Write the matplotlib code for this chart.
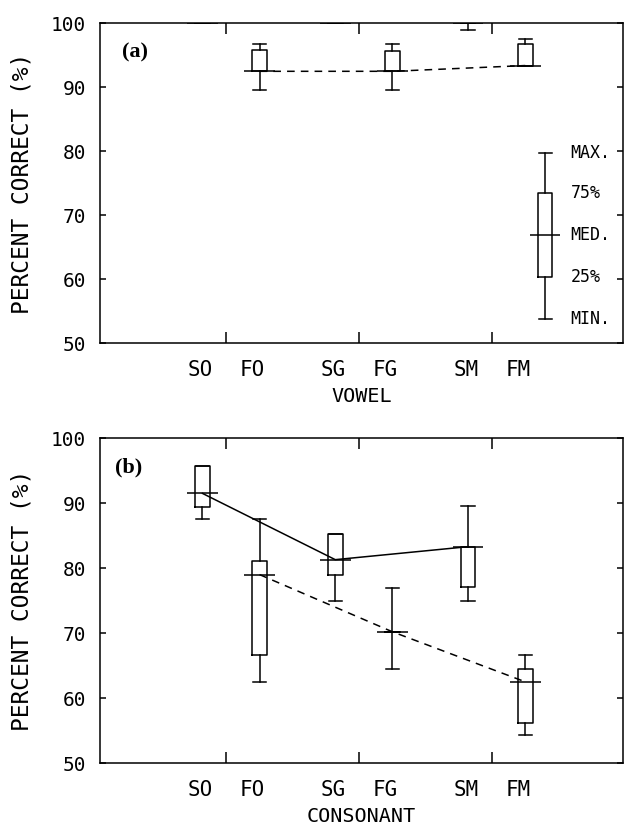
import matplotlib
matplotlib.use("Agg")
import matplotlib.pyplot as plt
from matplotlib.ticker import FixedLocator, NullFormatter, FixedFormatter

# categories: S = slow, F = fast; O, G, M groups
groups = ["O", "G", "M"]
s_labels = ["SO", "SG", "SM"]
f_labels = ["FO", "FG", "FM"]

# vowel (a): [min, q1, median, q3, max]
vowel_s = [
    [100, 100, 100, 100, 100],
    [100, 100, 100, 100, 100],
    [99.0, 100, 100, 100, 100],
]
vowel_f = [
    [89.6, 92.5, 92.5, 95.8, 96.8],
    [89.6, 92.5, 92.5, 95.7, 96.7],
    [93.4, 93.4, 93.4, 96.8, 97.6],
]

# consonant (b)
cons_s = [
    [87.5, 89.4, 91.5, 95.7, 95.7],
    [74.9, 79.0, 81.3, 85.3, 85.3],
    [75.0, 77.1, 83.3, 83.3, 89.5],
]
cons_f = [
    [62.4, 66.6, 79.0, 81.1, 87.5],
    [64.5, 70.2, 70.2, 70.2, 76.9],
    [54.3, 56.2, 62.5, 64.5, 66.6],
]

# key box in panel (a)
key_stats = [53.8, 60.4, 66.9, 73.4, 79.8]
key_text = ["MIN.", "25%", "MED.", "75%", "MAX."]

S_OFF, F_OFF, LAB_OFF = -0.18, 0.25, 0.195
BOX_W, MED_W, CAP_W = 0.11, 0.23, 0.10
LW = 1.1
mono = "DejaVu Sans Mono"


def stats_dict(v):
    return dict(whislo=v[0], q1=v[1], med=v[2], q3=v[3], whishi=v[4])


def draw_boxes(ax, data, positions):
    ax.bxp([stats_dict(v) for v in data], positions=positions,
           widths=BOX_W, capwidths=CAP_W, showfliers=False, manage_ticks=False,
           boxprops=dict(color="black", lw=LW),
           whiskerprops=dict(color="black", lw=LW),
           capprops=dict(color="black", lw=LW),
           medianprops=dict(lw=0))
    ax.hlines([v[2] for v in data], [p - MED_W / 2 for p in positions],
              [p + MED_W / 2 for p in positions], color="black", lw=LW)


def setup(ax, xlabel, tag, tag_xy):
    ax.set_xlim(-0.95, 2.985)
    ax.set_ylim(50, 100)
    ax.set_yticks([50, 60, 70, 80, 90, 100])
    ax.tick_params(axis="y", which="major", direction="in", length=4, width=LW,
                   right=True, labelsize=14, pad=10)
    ax.xaxis.set_major_locator(FixedLocator([0, 1, 2]))
    ax.xaxis.set_major_formatter(NullFormatter())
    pos = []
    labs = []
    for i in range(3):
        pos += [i - LAB_OFF, i + LAB_OFF]
        labs += [s_labels[i], f_labels[i]]
    ax.xaxis.set_minor_locator(FixedLocator(pos))
    ax.xaxis.set_minor_formatter(FixedFormatter(labs))
    ax.tick_params(axis="x", which="major", direction="in", length=8, width=LW, top=True)
    ax.tick_params(axis="x", which="minor", length=0, labelsize=15, pad=12)
    for lab in ax.get_xticklabels(minor=True) + ax.get_yticklabels():
        lab.set_fontfamily(mono)
    for sp in ax.spines.values():
        sp.set_linewidth(LW)
    ax.set_xlabel(xlabel, fontsize=14.5, family=mono, labelpad=5)
    ax.set_ylabel("PERCENT CORRECT (%)", fontsize=16.5, family=mono)
    ax.yaxis.set_label_coords(-0.128, 0.5)
    ax.text(tag_xy[0], tag_xy[1], tag, transform=ax.transAxes, fontsize=16,
            family="Liberation Serif", weight="bold", va="center")


fig = plt.figure(figsize=(6.26, 8.33), dpi=100)
ax1 = fig.add_axes([0.16, 0.588, 0.835, 0.384])
ax2 = fig.add_axes([0.16, 0.084, 0.835, 0.390])

xs = [i + S_OFF for i in range(3)]
xf = [i + F_OFF for i in range(3)]
dash = (0, (5, 4))

# panel (a) vowel
draw_boxes(ax1, vowel_s, xs)
draw_boxes(ax1, vowel_f, xf)
ax1.plot(xf, [v[2] for v in vowel_f], color="black", lw=LW, ls=dash)
key_x = 2.40
draw_boxes(ax1, [key_stats], [key_x])
for val, t in zip(key_stats, key_text):
    ax1.text(key_x + 0.19, val, t, family=mono, fontsize=12, va="center", ha="left")
setup(ax1, "VOWEL", "(a)", (0.042, 0.908))

# panel (b) consonant
draw_boxes(ax2, cons_s, xs)
draw_boxes(ax2, cons_f, xf)
ax2.plot(xs, [v[2] for v in cons_s], color="black", lw=LW)
ax2.plot(xf, [v[2] for v in cons_f], color="black", lw=LW, ls=dash)
setup(ax2, "CONSONANT", "(b)", (0.028, 0.91))

fig.savefig("out.png", dpi=100)
